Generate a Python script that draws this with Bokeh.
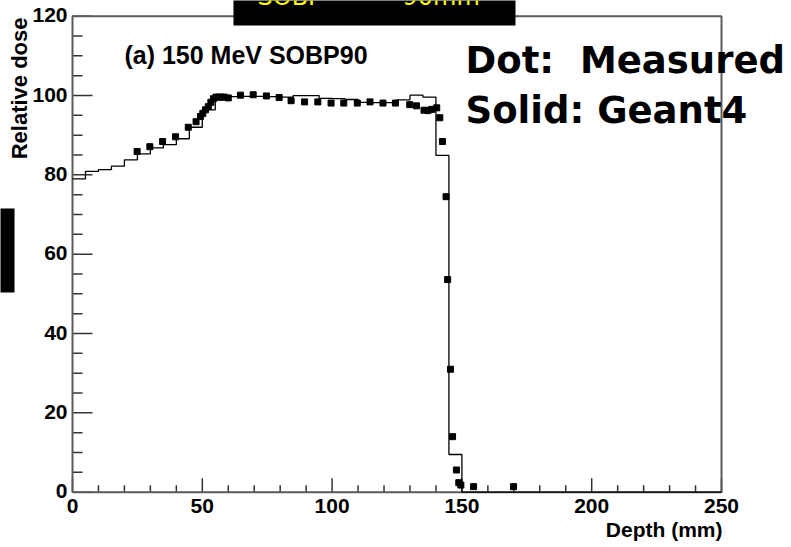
import math

from bokeh.plotting import figure
from bokeh.models import Range1d
from bokeh.core.properties import value
from bokeh.embed import file_html
from bokeh.resources import INLINE

# Geant4 depth-dose histogram, 5 mm bins (lower edges, then the closing edge)
bin_edges = [0, 5, 10, 15, 20, 25, 30, 35, 40, 45, 50, 55, 60, 65, 70, 75,
             80, 85, 90, 95, 100, 105, 110, 115, 120, 125, 130, 135, 140,
             145, 150]
geant4_dose = [79.0, 80.9, 81.3, 82.2, 83.8, 85.3, 86.8, 87.6, 89.1, 92.0,
               96.4, 99.6, 99.7, 99.8, 99.8, 99.7, 99.6, 100.0, 100.0, 99.3,
               99.2, 99.0, 98.3, 98.2, 98.2, 98.9, 100.1, 99.6, 84.9, 9.5]

# Measured points
measured_depth = [24.9, 29.8, 34.7, 39.7, 44.6, 47.6, 49.3, 50.2, 51.2, 52.3,
                  53.3, 54.3, 55.3, 56.4, 57.4, 58.4, 60.0, 64.7, 69.6, 74.7,
                  79.6, 84.2, 89.4, 94.5, 99.6, 104.5, 109.7, 114.6, 119.6,
                  124.4, 129.9, 132.5, 135.4, 136.9, 138.3, 140.3, 141.5,
                  142.5, 143.9, 144.5, 145.6, 146.4, 147.9, 148.8, 149.6,
                  154.5, 169.9]
measured_dose = [85.9, 87.1, 88.4, 89.6, 92.0, 93.4, 94.7, 95.5, 96.4, 97.2,
                 98.3, 99.2, 99.6, 99.6, 99.6, 99.6, 99.4, 100.1, 100.2, 99.9,
                 99.5, 98.7, 98.4, 98.4, 98.1, 98.1, 98.1, 98.4, 98.1,
                 98.1, 97.7, 97.4, 96.3, 96.2, 96.5, 96.9, 94.4,
                 88.4, 74.5, 53.6, 31.0, 14.0, 5.6, 2.4, 1.8,
                 1.4, 1.4]

# Axis ticks
x_major = [0, 50, 100, 150, 200, 250]
x_major_labels = ["0", "50", "100", "150", "200", "250"]
y_major = [0, 20, 40, 60, 80, 100, 120]
y_major_labels = ["0", "20", "40", "60", "80", "100", "120"]
x_minor_step = 10
y_minor_step = 5

x_min, x_max = 0, 250
y_min, y_max = 0, 120

# Canvas layout (pixels): the drawing frame sits inside the page
W, H = 791, 547
FRAME_L, FRAME_R, FRAME_T, FRAME_B = 72, 721, 15.7, 491.7

sx = (FRAME_R - FRAME_L) / (x_max - x_min)   # px per mm
sy = (FRAME_B - FRAME_T) / (y_max - y_min)   # px per dose unit
X0 = x_min - FRAME_L / sx
X1 = x_max + (W - FRAME_R) / sx
Y0 = y_min - (H - FRAME_B) / sy
Y1 = y_max + FRAME_T / sy

# The svg text renderer sets "alphabetic" text a little low; lift it back
BASELINE_LIFT = 0.37


def px_x(px):
    """Page pixel column -> depth coordinate."""
    return X0 + px / sx


def px_y(py):
    """Page pixel row -> dose coordinate."""
    return Y1 - py / sy


def lift(font_px):
    """Baseline correction for a given font size, in dose units."""
    return BASELINE_LIFT * font_px / sy


AXIS_GREY = "#5a5a5a"
TICK_COLOR = "#333333"
HELV = value("Liberation Sans")

p = figure(width=W, height=H, output_backend="svg", toolbar_location=None,
           x_range=Range1d(X0, X1), y_range=Range1d(Y0, Y1),
           x_axis_location=None, y_axis_location=None, min_border=0)
p.outline_line_color = None
p.background_fill_color = "white"
p.border_fill_color = "white"
p.grid.visible = False

# ---- ROOT-style frame with inward ticks ----
x_minor = [v for v in range(x_min, x_max + 1, x_minor_step) if v not in x_major]
y_minor = [v for v in range(y_min, y_max + 1, y_minor_step) if v not in y_major]

x_major_len, x_minor_len = 14 / sy, 7 / sy
y_major_len, y_minor_len = 20 / sx, 10 / sx

p.segment(x0=x_major, y0=[y_min] * len(x_major),
          x1=x_major, y1=[y_min + x_major_len] * len(x_major),
          line_color=TICK_COLOR, line_width=1.5)
p.segment(x0=x_minor, y0=[y_min] * len(x_minor),
          x1=x_minor, y1=[y_min + x_minor_len] * len(x_minor),
          line_color=TICK_COLOR, line_width=1.5)
p.segment(x0=[x_min] * len(y_major), y0=y_major,
          x1=[x_min + y_major_len] * len(y_major), y1=y_major,
          line_color=TICK_COLOR, line_width=1.5)
p.segment(x0=[x_min] * len(y_minor), y0=y_minor,
          x1=[x_min + y_minor_len] * len(y_minor), y1=y_minor,
          line_color=TICK_COLOR, line_width=1.5)

p.line([x_min, x_max, x_max, x_min, x_min],
       [y_min, y_min, y_max, y_max, y_min],
       line_color=AXIS_GREY, line_width=2)

# Tick labels
p.text(x=x_major, y=[y_min - 21.3 / sy + lift(21)] * len(x_major),
       text=x_major_labels,
       text_font=HELV, text_font_style="bold", text_font_size=value("21px"),
       text_align="center", text_baseline="alphabetic", text_color="black")
p.text(x=[x_min - 5 / sx] * len(y_major),
       y=[v - 6.8 / sy + lift(21) for v in y_major],
       text=y_major_labels,
       text_font=HELV, text_font_style="bold", text_font_size=value("21px"),
       text_align="right", text_baseline="alphabetic", text_color="black")

# Axis titles
p.text(x=[x_min - (45 + BASELINE_LIFT * 22) / sx], y=[y_max - 1.3 / sy],
       text=["Relative dose"],
       angle=math.pi / 2, text_font=HELV, text_font_style="bold",
       text_font_size=value("22px"), text_align="right",
       text_baseline="alphabetic", text_color="black")
p.text(x=[x_max + 1 / sx], y=[y_min - 45.5 / sy + lift(21)],
       text=["Depth (mm)"],
       text_font=HELV, text_font_style="bold", text_font_size=value("21px"),
       text_align="right", text_baseline="alphabetic", text_color="black")

# ---- data ----
# Simulation histogram, closed down to zero after the last filled bin
step_x = bin_edges + [x_max]
step_y = geant4_dose + [0, 0]
p.step(step_x, step_y, mode="after", line_color="black", line_width=1.3)

# Measured dose points
p.scatter(measured_depth, measured_dose, marker="square", size=6,
          color="black")

# Panel caption
p.text(x=[20.0], y=[108.0 + lift(25)], text=["(a) 150 MeV SOBP90"],
       text_font=HELV, text_font_style="bold", text_font_size=value("25px"),
       text_align="left", text_baseline="alphabetic", text_color="black")

# Legend note
NB = "\u00a0"
p.text(x=[151.4, 151.4], y=[105.5 + lift(37), 92.9 + lift(37)],
       text=["Dot:" + NB * 2 + "Measured", "Solid:" + NB + "Geant4"],
       text_font=value("DejaVu Sans"), text_font_style="bold",
       text_font_size=value("37px"), text_align="left",
       text_baseline="alphabetic", text_color="black")

# Black banner across the top with its yellow heading, and a side tab
p.quad(left=[px_x(233)], right=[px_x(515)], top=[px_y(0) + 1],
       bottom=[px_y(25)], fill_color="black", line_color=None)
p.text(x=[px_x(257), px_x(402)], y=[px_y(5) + lift(24)] * 2,
       text=["SOBP", "90mm"],
       text_font=value("DejaVu Sans"), text_font_size=value("24px"),
       text_align="left", text_baseline="alphabetic", text_color="#ffff00")
p.quad(left=[px_x(0) - 1], right=[px_x(14)], top=[px_y(208)],
       bottom=[px_y(292)], fill_color="black", line_color=None)

open("out.html", "w").write(file_html(p, INLINE))
